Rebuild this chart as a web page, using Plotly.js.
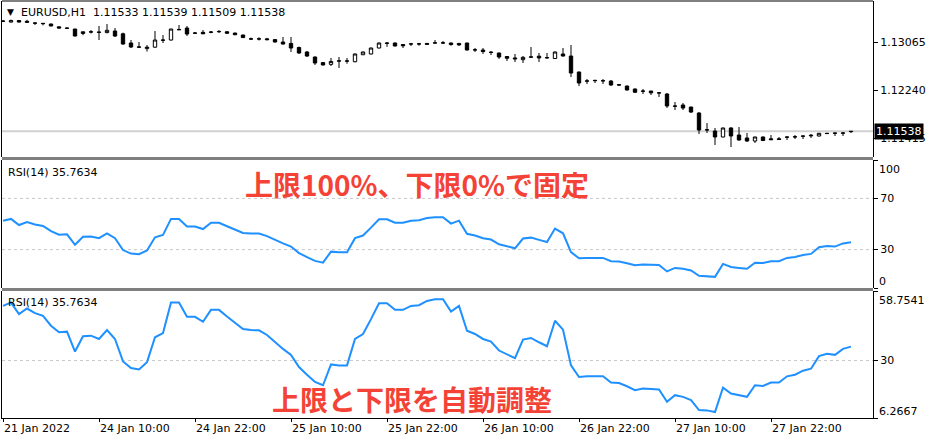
<!DOCTYPE html>
<html>
<head>
<meta charset="utf-8">
<script src="https://cdn.plot.ly/plotly-3.0.1.min.js"></script>
<style>
html,body{margin:0;padding:0;background:#fff;}
#chart{width:936px;height:443px;}
</style>
</head>
<body>
<div id="chart"></div>
<script>
// ---- data ----
const opens = [
1.13435,1.13417,1.13443,1.13410,1.13402,1.13395,1.13383,1.13335,1.13314,1.13297,
1.13220,1.13250,1.13246,1.13235,1.13263,1.13215,1.13057,1.12990,1.12960,1.12985,
1.13108,1.13108,1.13290,1.13314,1.13225,1.13240,1.13240,1.13250,1.13250,1.13228,
1.13194,1.13128,1.13125,1.13128,1.13115,1.13074,1.13050,1.12980,1.12902,1.12816,
1.12720,1.12690,1.12745,1.12745,1.12735,1.12855,1.12868,1.12971,1.13050,1.13057,
1.13030,1.13039,1.13042,1.13050,1.13055,1.13060,1.13057,1.13050,1.13057,1.12936,
1.12936,1.12900,1.12885,1.12825,1.12800,1.12770,1.12812,1.12830,1.12800,1.12790,
1.12868,1.12833,1.12558,1.12400,1.12415,1.12405,1.12403,1.12340,1.12317,1.12266,
1.12231,1.12231,1.12197,1.12180,1.11974,1.11991,1.11956,1.11853,1.11561,1.11544,
1.11441,1.11596,1.11475,1.11424,1.11372,1.11441,1.11410,1.11410,1.11441,1.11441,
1.11458,1.11460,1.11458,1.11505,1.11510,1.11505,1.11533];
const highs = [
1.13452,1.13460,1.13452,1.13455,1.13405,1.13400,1.13390,1.13340,1.13320,1.13300,
1.13255,1.13280,1.13349,1.13383,1.13314,1.13235,1.13108,1.13074,1.13022,1.13263,
1.13194,1.13300,1.13366,1.13349,1.13246,1.13280,1.13263,1.13280,1.13260,1.13235,
1.13200,1.13150,1.13155,1.13145,1.13120,1.13160,1.13160,1.12995,1.12919,1.12825,
1.12730,1.12799,1.12816,1.12799,1.12875,1.12910,1.12975,1.13065,1.13074,1.13065,
1.13039,1.13057,1.13060,1.13057,1.13108,1.13091,1.13065,1.13057,1.13060,1.12971,
1.12971,1.12919,1.12890,1.12833,1.12868,1.12833,1.12988,1.12885,1.12885,1.12910,
1.12971,1.13022,1.12565,1.12438,1.12425,1.12438,1.12420,1.12345,1.12325,1.12275,
1.12266,1.12235,1.12214,1.12197,1.12042,1.12025,1.11960,1.11870,1.11681,1.11596,
1.11600,1.11610,1.11613,1.11510,1.11445,1.11450,1.11475,1.11441,1.11445,1.11475,
1.11465,1.11492,1.11510,1.11510,1.11515,1.11527,1.11539];
const lows = [
1.13417,1.13409,1.13409,1.13405,1.13366,1.13360,1.13345,1.13305,1.13300,1.13170,
1.13190,1.13220,1.13108,1.13225,1.13160,1.13030,1.12971,1.12980,1.12910,1.12975,
1.13057,1.13100,1.13280,1.13177,1.13211,1.13211,1.13225,1.13228,1.13215,1.13190,
1.13142,1.13108,1.13100,1.13100,1.13065,1.13030,1.12902,1.12870,1.12816,1.12679,
1.12670,1.12661,1.12627,1.12700,1.12725,1.12850,1.12860,1.12965,1.12990,1.13000,
1.12971,1.13005,1.13010,1.13030,1.13050,1.13039,1.13010,1.13005,1.12930,1.12902,
1.12868,1.12850,1.12782,1.12747,1.12730,1.12713,1.12805,1.12730,1.12790,1.12782,
1.12825,1.12472,1.12317,1.12352,1.12369,1.12352,1.12317,1.12320,1.12240,1.12197,
1.12180,1.12163,1.12128,1.11939,1.11905,1.11905,1.11853,1.11492,1.11510,1.11303,
1.11435,1.11269,1.11380,1.11355,1.11338,1.11372,1.11389,1.11389,1.11389,1.11406,
1.11406,1.11424,1.11450,1.11492,1.11458,1.11458,1.11509];
const closes = [
1.13430,1.13443,1.13417,1.13430,1.13398,1.13390,1.13349,1.13314,1.13310,1.13177,
1.13250,1.13246,1.13240,1.13275,1.13177,1.13039,1.12988,1.12985,1.12985,1.13108,
1.13105,1.13297,1.13285,1.13211,1.13228,1.13215,1.13245,1.13255,1.13225,1.13200,
1.13150,1.13125,1.13128,1.13115,1.13074,1.13039,1.12971,1.12885,1.12833,1.12713,
1.12679,1.12740,1.12750,1.12748,1.12868,1.12902,1.12971,1.13057,1.13055,1.13005,
1.13010,1.13042,1.13040,1.13035,1.13060,1.13057,1.13030,1.13025,1.12936,1.12940,
1.12910,1.12895,1.12816,1.12795,1.12785,1.12810,1.12818,1.12800,1.12805,1.12902,
1.12833,1.12541,1.12369,1.12405,1.12410,1.12408,1.12335,1.12335,1.12249,1.12210,
1.12228,1.12200,1.12200,1.11974,1.11970,1.11939,1.11870,1.11561,1.11565,1.11441,
1.11596,1.11458,1.11389,1.11372,1.11441,1.11380,1.11395,1.11398,1.11438,1.11445,
1.11455,1.11470,1.11505,1.11500,1.11505,1.11510,1.11538];
const rsi = [
52.60,53.97,49.19,51.51,49.60,48.50,44.40,41.67,41.94,33.74,
40.03,40.30,38.93,42.62,38.93,29.64,26.91,26.36,29.36,39.62,
41.39,53.97,53.97,48.09,48.09,46.04,50.96,50.96,48.23,45.77,
43.03,42.62,42.49,40.57,37.57,34.83,32.37,27.31,24.17,21.16,
19.80,28.41,28.00,28.00,38.93,40.98,47.14,53.70,53.70,50.96,
50.96,52.60,52.88,54.65,55.34,55.34,50.28,52.60,42.35,41.00,
38.93,37.84,34.15,32.51,31.01,38.66,39.34,37.57,35.93,46.45,
42.76,28.00,23.21,23.49,23.49,23.49,20.89,20.75,19.39,17.75,
18.43,18.29,18.02,12.96,15.70,15.01,13.65,9.54,9.41,8.72,
18.84,16.38,15.70,15.01,19.80,19.52,20.89,20.89,23.49,24.17,
25.81,26.63,31.83,32.78,32.37,34.83,35.76];
const xTickIdx = [0,12,24,36,48,60,72,84,96];
const xTickText = ['21 Jan 2022','24 Jan 10:00','24 Jan 22:00','25 Jan 10:00','25 Jan 22:00','26 Jan 10:00','26 Jan 22:00','27 Jan 10:00','27 Jan 22:00'];
const priceTicks = [1.13065, 1.12240, 1.11415];
const priceTickText = ['1.13065','1.12240','1.11415'];
const rsiFixedRange = [0, 100];
const rsiFixedTicks = [100, 70, 30, 0];
const rsiAutoRange = [6.2667, 58.7541];
const rsiAutoTicks = [58.7541, 30, 6.2667];
const rsiLevels = [70, 30];
const lastPrice = 1.11538;
const header = 'EURUSD,H1\u00a0\u00a01.11533 1.11539 1.11509 1.11538';
const rsiLabel = 'RSI(14) 35.7634';
const note1 = '上限100%、下限0%で固定';
const note2 = '上限と下限を自動調整';

// ---- layout geometry ----
const W = 936, H = 443;
const mL = 2, mR = 63, mT = 1, mB = 25;
const plotH = H - mT - mB;          // 417
const py = (pix) => (H - mB - pix) / plotH;   // page y -> paper
const px = (pix) => (pix - mL) / (W - mL - mR);

const d0 = [py(157), 1];
const d1 = [py(288), py(160)];
const d2 = [0, py(291)];

const idx = opens.map((_, i) => i);

const FONT = 'DejaVu Sans';
const axisFont = {family: FONT, size: 11, color: '#000'};

const traces = [
  {
    type: 'candlestick', x: idx, open: opens, high: highs, low: lows, close: closes,
    xaxis: 'x', yaxis: 'y',
    increasing: {line: {color: '#000', width: 1}, fillcolor: '#fff'},
    decreasing: {line: {color: '#000', width: 1}, fillcolor: '#000'},
    whiskerwidth: 0, hoverinfo: 'skip', showlegend: false
  },
  {
    type: 'scatter', mode: 'lines', x: idx, y: rsi, xaxis: 'x', yaxis: 'y2',
    line: {color: '#1e90ff', width: 2}, hoverinfo: 'skip', showlegend: false
  },
  {
    type: 'scatter', mode: 'lines', x: idx, y: rsi, xaxis: 'x', yaxis: 'y3',
    line: {color: '#1e90ff', width: 2}, hoverinfo: 'skip', showlegend: false
  }
];

const yBase = {
  side: 'right', anchor: 'x', showgrid: false, zeroline: false,
  showline: true, mirror: true, linecolor: '#000', linewidth: 1,
  ticks: 'outside', ticklen: 4, tickcolor: '#000', tickfont: axisFont,
  fixedrange: true
};

const shapes = [];
// panel separators (gray bands)
const gray = '#7f7f7f';
shapes.push({type: 'rect', xref: 'paper', yref: 'paper', x0: 0, x1: 1, y0: d2[1], y1: d1[0], fillcolor: gray, line: {width: 0}, layer: 'above'});
shapes.push({type: 'rect', xref: 'paper', yref: 'paper', x0: 0, x1: 1, y0: d1[1], y1: d0[0], fillcolor: gray, line: {width: 0}, layer: 'above'});
shapes.push({type: 'line', xref: 'paper', yref: 'paper', x0: 0, x1: 1, y0: 1, y1: 1, line: {color: gray, width: 2}, layer: 'above'});
// last price line
shapes.push({type: 'line', xref: 'paper', yref: 'y', x0: 0, x1: 1, y0: lastPrice, y1: lastPrice, line: {color: '#d0d0d0', width: 2}, layer: 'below'});
// RSI levels
rsiLevels.forEach(v => {
  shapes.push({type: 'line', xref: 'paper', yref: 'y2', x0: 0, x1: 1, y0: v, y1: v, line: {color: '#c8c8c8', width: 1, dash: '3px,3px'}, layer: 'below'});
  if (v >= rsiAutoRange[0] && v <= rsiAutoRange[1]) {
    shapes.push({type: 'line', xref: 'paper', yref: 'y3', x0: 0, x1: 1, y0: v, y1: v, line: {color: '#c8c8c8', width: 1, dash: '3px,3px'}, layer: 'below'});
  }
});

const annotations = [
  {xref: 'paper', yref: 'paper', x: px(5), y: py(12), xanchor: 'left', yanchor: 'middle', text: '▼', showarrow: false, font: {family: FONT, size: 9, color: '#000'}},
  {xref: 'paper', yref: 'paper', x: px(19), y: py(12.5), xanchor: 'left', yanchor: 'middle', text: header, showarrow: false, font: axisFont},
  {xref: 'paper', yref: 'paper', x: px(6), y: py(172.5), xanchor: 'left', yanchor: 'middle', text: rsiLabel, showarrow: false, font: axisFont},
  {xref: 'paper', yref: 'paper', x: px(6), y: py(302.5), xanchor: 'left', yanchor: 'middle', text: rsiLabel, showarrow: false, font: axisFont},
  // current price box
  {xref: 'paper', yref: 'y', x: 1, y: lastPrice, xanchor: 'left', yanchor: 'middle', xshift: 1, text: lastPrice.toFixed(5), showarrow: false,
   bgcolor: '#000', borderpad: 1, font: {family: FONT, size: 11, color: '#fff'}},
  // edge labels of RSI scales
  {xref: 'paper', yref: 'y2', x: 1, y: rsiFixedTicks[0], xanchor: 'left', yanchor: 'middle', xshift: 4, yshift: -10, text: String(rsiFixedTicks[0]), showarrow: false, font: axisFont},
  {xref: 'paper', yref: 'y2', x: 1, y: rsiFixedTicks[3], xanchor: 'left', yanchor: 'middle', xshift: 4, yshift: 7, text: String(rsiFixedTicks[3]), showarrow: false, font: axisFont},
  {xref: 'paper', yref: 'y3', x: 1, y: rsiAutoTicks[0], xanchor: 'left', yanchor: 'middle', xshift: 4, yshift: -9, text: String(rsiAutoTicks[0]), showarrow: false, font: axisFont},
  {xref: 'paper', yref: 'y3', x: 1, y: rsiAutoTicks[2], xanchor: 'left', yanchor: 'middle', xshift: 4, yshift: 7, text: String(rsiAutoTicks[2]), showarrow: false, font: axisFont},
  // red notes
  {xref: 'paper', yref: 'paper', x: px(243), y: py(183.5), xanchor: 'left', yanchor: 'middle', text: note1, showarrow: false,
   font: {family: 'Noto Sans CJK JP', size: 28, color: '#f44336', weight: 700}},
  {xref: 'paper', yref: 'paper', x: px(270), y: py(399), xanchor: 'left', yanchor: 'middle', text: note2, showarrow: false,
   font: {family: 'Noto Sans CJK JP', size: 28, color: '#f44336', weight: 700}}
];

const layout = {
  width: W, height: H,
  margin: {l: mL, r: mR, t: mT, b: mB, pad: 0},
  paper_bgcolor: '#fff', plot_bgcolor: '#fff',
  showlegend: false,
  boxgap: 0.4,
  xaxis: {
    anchor: 'y3', domain: [0, 1], range: [-0.125, 108.75],
    rangeslider: {visible: false},
    showgrid: false, zeroline: false, showline: true, linecolor: '#000', linewidth: 1,
    tickvals: xTickIdx, ticktext: xTickText, ticks: 'outside', ticklen: 3, tickcolor: '#000',
    ticklabelposition: 'outside right', tickfont: axisFont, fixedrange: true
  },
  yaxis: Object.assign({}, yBase, {domain: d0, range: [1.11097, 1.13779], tickvals: priceTicks, ticktext: priceTickText}),
  yaxis2: Object.assign({}, yBase, {domain: d1, range: rsiFixedRange, tickvals: rsiFixedTicks, ticktext: rsiFixedTicks.map(v => (v === 100 || v === 0) ? '' : String(v))}),
  yaxis3: Object.assign({}, yBase, {domain: d2, range: rsiAutoRange, tickvals: rsiAutoTicks, ticktext: rsiAutoTicks.map(v => (v === 30) ? '30' : '')}),
  shapes: shapes,
  annotations: annotations
};

Plotly.newPlot('chart', traces, layout, {staticPlot: true, displayModeBar: false});
</script>
</body>
</html>
